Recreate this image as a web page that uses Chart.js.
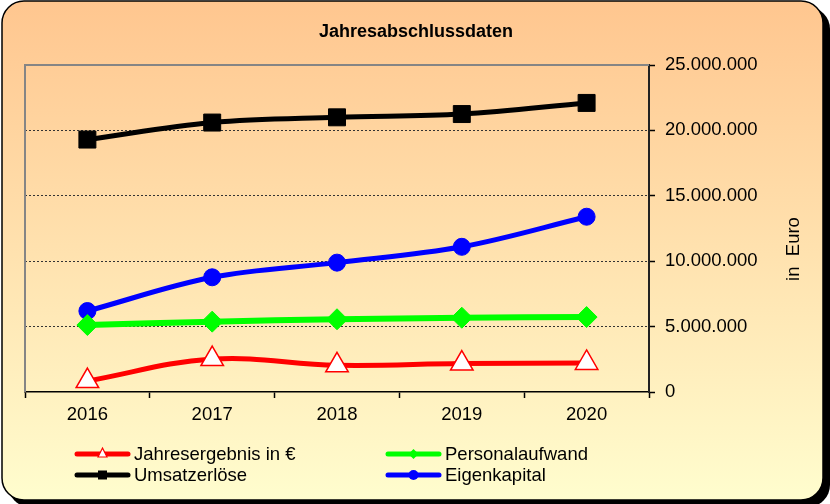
<!DOCTYPE html>
<html><head><meta charset="utf-8">
<script src="https://cdn.jsdelivr.net/npm/chart.js@4.4.1/dist/chart.umd.min.js"></script>
<style>html,body{margin:0;padding:0;background:#fff}#wrap{width:830px;height:504px}</style>
</head><body><div id="wrap"><canvas id="c" width="830" height="504"></canvas></div>
<script>
const chartTitle = 'Jahresabschlussdaten';
const axisTitle = 'in  Euro';
const years = ['2016', '2017', '2018', '2019', '2020'];
const seriesNames = ['Jahresergebnis in €', 'Personalaufwand', 'Umsatzerlöse', 'Eigenkapital'];
const jahresergebnis = [840000, 2520000, 2040000, 2170000, 2220000];
const personalaufwand = [5120000, 5380000, 5560000, 5680000, 5730000];
const umsatzerloese = [19300000, 20600000, 21000000, 21250000, 22100000];
const eigenkapital = [6190000, 8770000, 9890000, 11100000, 13400000];
const yTicks = [0, 5000000, 10000000, 15000000, 20000000, 25000000];

const FONT = "'Liberation Sans', Arial, sans-serif";
const fmt = v => String(v).replace(/\B(?=(\d{3})+(?!\d))/g, '.');

const bgPlugin = {
  id: 'bg',
  beforeDraw(chart) {
    const ctx = chart.ctx;
    ctx.save();
    ctx.beginPath();
    ctx.roundRect(8, 7, 822, 500, 22);
    ctx.fillStyle = '#000';
    ctx.fill();
    const g = ctx.createLinearGradient(0, 0, 0, 500);
    g.addColorStop(0, '#FFC68F');
    g.addColorStop(1, '#FFFDCE');
    ctx.beginPath();
    ctx.roundRect(2, 1, 821, 499, 22);
    ctx.fillStyle = g;
    ctx.fill();
    ctx.lineWidth = 1.5;
    ctx.strokeStyle = '#000';
    ctx.stroke();
    ctx.restore();
  },
  beforeDatasetsDraw(chart) {
    const ctx = chart.ctx, a = chart.chartArea;
    ctx.save();
    ctx.strokeStyle = '#858585';
    ctx.lineWidth = 2;
    ctx.beginPath();
    ctx.moveTo(a.left, a.bottom);
    ctx.lineTo(a.left, a.top);
    ctx.lineTo(a.right, a.top);
    ctx.stroke();
    ctx.restore();
  },
  afterDraw(chart) {
    const ctx = chart.ctx;
    ctx.save();
    ctx.fillStyle = '#000';
    ctx.font = 'bold 18px ' + FONT;
    ctx.textAlign = 'center';
    ctx.textBaseline = 'middle';
    ctx.fillText(chartTitle, 416, 32);
    ctx.save();
    ctx.translate(794, 249);
    ctx.rotate(-Math.PI / 2);
    ctx.font = '18.5px ' + FONT;
    ctx.fillText(axisTitle, 0, 0);
    ctx.restore();
    const cols = [75, 386], rows = [454, 475];
    chart.data.datasets.forEach((ds, i) => {
      const x = cols[i % 2], y = rows[Math.floor(i / 2)];
      ctx.strokeStyle = ds.borderColor;
      ctx.lineWidth = 5;
      ctx.lineCap = 'round';
      ctx.beginPath();
      ctx.moveTo(x + 2, y);
      ctx.lineTo(x + 53, y);
      ctx.stroke();
      const cx = x + 27.5;
      ctx.lineCap = 'butt';
      ctx.beginPath();
      if (ds.pointStyle === 'triangle') {
        ctx.moveTo(cx, y - 6); ctx.lineTo(cx + 4.5, y + 3); ctx.lineTo(cx - 4.5, y + 3); ctx.closePath();
        ctx.fillStyle = '#fff'; ctx.fill();
        ctx.lineWidth = 1.2; ctx.stroke();
      } else if (ds.pointStyle === 'rect') {
        ctx.rect(cx - 4.5, y - 4.5, 9, 9);
        ctx.fillStyle = ds.borderColor; ctx.fill();
      } else if (ds.pointStyle === 'rectRot') {
        ctx.moveTo(cx - 5, y); ctx.lineTo(cx, y - 5); ctx.lineTo(cx + 5, y); ctx.lineTo(cx, y + 5); ctx.closePath();
        ctx.fillStyle = ds.borderColor; ctx.fill();
      } else {
        ctx.arc(cx, y, 5, 0, Math.PI * 2);
        ctx.fillStyle = ds.borderColor; ctx.fill();
      }
      ctx.fillStyle = '#000';
      ctx.font = '18.5px ' + FONT;
      ctx.textAlign = 'left';
      ctx.textBaseline = 'middle';
      ctx.fillText(ds.label, x + 59, y + 1);
    });
    ctx.restore();
  }
};

new Chart(document.getElementById('c'), {
  type: 'line',
  data: {
    labels: years,
    datasets: [
      { label: seriesNames[0], data: jahresergebnis, borderColor: '#FF0000', borderWidth: 5,
        pointStyle: 'triangle', pointRadius: 13, pointBackgroundColor: '#FFFFFF', pointBorderColor: '#FF0000', pointBorderWidth: 1.5, tension: 0.38 },
      { label: seriesNames[1], data: personalaufwand, borderColor: '#00FF00', borderWidth: 6,
        pointStyle: 'rectRot', pointRadius: 10.5, pointBackgroundColor: '#00FF00', pointBorderColor: '#00FF00', pointBorderWidth: 1, tension: 0.35 },
      { label: seriesNames[2], data: umsatzerloese, borderColor: '#000000', borderWidth: 5,
        pointStyle: 'rect', pointRadius: 12, pointBackgroundColor: '#000000', pointBorderColor: '#000000', pointBorderWidth: 1, tension: 0.35 },
      { label: seriesNames[3], data: eigenkapital, borderColor: '#0000FF', borderWidth: 5,
        pointStyle: 'circle', pointRadius: 8.5, pointBackgroundColor: '#0000FF', pointBorderColor: '#0000FF', pointBorderWidth: 1, tension: 0.35 }
    ]
  },
  options: {
    responsive: false,
    animation: false,
    devicePixelRatio: 1,
    layout: { padding: { left: 25, top: 65, right: 0, bottom: 0 } },
    plugins: { legend: { display: false }, title: { display: false }, tooltip: { enabled: false } },
    scales: {
      x: {
        type: 'category',
        offset: true,
        grid: { offset: true, drawOnChartArea: false, drawTicks: true, tickLength: 6, tickColor: '#000', tickWidth: 1.5 },
        border: { display: true, color: '#000', width: 1.5 },
        ticks: { color: '#000', font: { family: FONT, size: 18.5 }, padding: 6, maxRotation: 0, autoSkip: false },
        afterFit(s) { s.height = 112; }
      },
      y: {
        position: 'right',
        min: 0, max: 25000000,
        afterBuildTicks(s) { s.ticks = yTicks.map(v => ({ value: v })); },
        ticks: { color: '#000', font: { family: FONT, size: 18.5 }, padding: 10, callback: v => fmt(v) },
        grid: {
          color: c => (c.tick && (c.tick.value === 0 || c.tick.value === 25000000)) ? 'rgba(0,0,0,0)' : '#333',
          lineWidth: 1, tickColor: '#000', tickLength: 6, tickWidth: 1.5, tickBorderDash: []
        },
        border: { display: true, color: '#222', width: 2, dash: [2, 2] },
        afterFit(s) { s.width = 830 - 649; }
      }
    }
  },
  plugins: [bgPlugin]
});
</script>
</body></html>
